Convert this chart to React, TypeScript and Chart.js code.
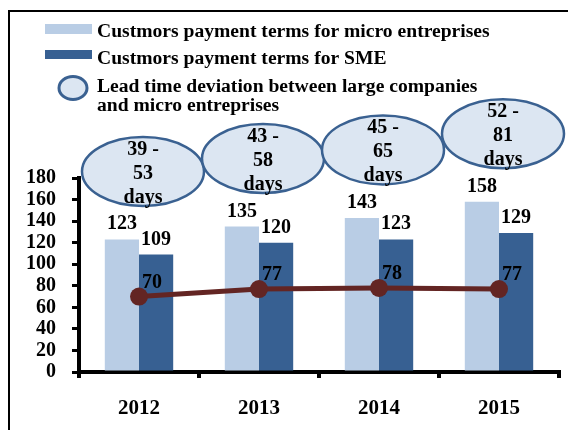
import { useEffect, useRef } from "react";
import { Chart, registerables } from "chart.js";

Chart.register(...registerables);

const years = ["2012", "2013", "2014", "2015"];
const microTerms = [123, 135, 143, 158];
const smeTerms = [109, 120, 123, 129];
const leadDeviation = [70, 77, 78, 77];
const rangeLow = [39, 43, 45, 52];
const rangeHigh = [53, 58, 65, 81];
const yMin = 0;
const yMax = 180;
const yStep = 20;
const legendMicro = "Custmors payment terms for micro entreprises";
const legendSme = "Custmors payment terms for SME";
const legendLead = ["Lead time deviation between large companies", "and micro entreprises"];

const FONT = "'Liberation Serif', 'Times New Roman', serif";
const LIGHT = "#b9cde5";
const DARK = "#376092";
const LINE = "#632523";
const ELL_FILL = "#dce6f2";
const ELL_STROKE = "#3a6191";

const overlay = {
  id: "overlay",
  afterDatasetsDraw(chart: any) {
    const ctx = chart.ctx as CanvasRenderingContext2D;
    ctx.save();
    ctx.fillStyle = "#000";
    ctx.font = `bold 20px ${FONT}`;
    ctx.textAlign = "center";
    ctx.textBaseline = "alphabetic";
    [0, 1].forEach((di) => {
      const meta = chart.getDatasetMeta(di);
      meta.data.forEach((el: any, i: number) => {
        ctx.fillText(String(chart.data.datasets[di].data[i]), el.x, el.y - 10);
      });
    });
    const lm = chart.getDatasetMeta(2);
    ctx.textAlign = "left";
    lm.data.forEach((el: any, i: number) => {
      ctx.fillText(String(chart.data.datasets[2].data[i]), el.x + 3, el.y - 9);
    });

    // ellipses
    const xs = chart.scales.x;
    const ys = chart.scales.y;
    years.forEach((_, i) => {
      const cx = xs.getPixelForValue(i) + 4;
      const cy = ys.getPixelForValue(microTerms[i]) - 68;
      ctx.beginPath();
      ctx.ellipse(cx, cy, 61, 34.5, 0, 0, Math.PI * 2);
      ctx.fillStyle = ELL_FILL;
      ctx.fill();
      ctx.lineWidth = 2.5;
      ctx.strokeStyle = ELL_STROKE;
      ctx.stroke();
      ctx.fillStyle = "#000";
      ctx.textAlign = "center";
      ctx.textBaseline = "middle";
      ctx.font = `bold 20px ${FONT}`;
      const lines = [`${rangeLow[i]} -`, `${rangeHigh[i]}`, "days"];
      lines.forEach((t, k) => ctx.fillText(t, cx, cy + 2 + (k - 1) * 24));
    });

    // frame
    ctx.lineWidth = 2;
    ctx.strokeStyle = "#000";
    ctx.strokeRect(9, 11, 700, 600);

    // legend
    ctx.fillStyle = LIGHT;
    ctx.fillRect(45, 24, 47, 10);
    ctx.fillStyle = DARK;
    ctx.fillRect(45, 50, 47, 9);
    ctx.beginPath();
    ctx.ellipse(73, 88, 14, 11.5, 0, 0, Math.PI * 2);
    ctx.fillStyle = ELL_FILL;
    ctx.fill();
    ctx.lineWidth = 3;
    ctx.strokeStyle = ELL_STROKE;
    ctx.stroke();
    ctx.fillStyle = "#000";
    ctx.font = `bold 19.6px ${FONT}`;
    ctx.textAlign = "left";
    ctx.textBaseline = "alphabetic";
    ctx.fillText(legendMicro, 97, 37);
    ctx.fillText(legendSme, 97, 64);
    ctx.fillText(legendLead[0], 97, 92);
    ctx.fillText(legendLead[1], 97, 111);
    ctx.restore();
  },
};

export default function App() {
  const ref = useRef<HTMLCanvasElement>(null);
  useEffect(() => {
    if (!ref.current) return;
    const chart = new Chart(ref.current, {
      type: "bar",
      data: {
        labels: years,
        datasets: [
          {
            type: "bar",
            label: legendMicro,
            data: microTerms,
            backgroundColor: LIGHT,
            categoryPercentage: 0.57,
            barPercentage: 1,
            order: 1,
          },
          {
            type: "bar",
            label: legendSme,
            data: smeTerms,
            backgroundColor: DARK,
            categoryPercentage: 0.57,
            barPercentage: 1,
            order: 1,
          },
          {
            type: "line",
            label: legendLead.join(" "),
            data: leadDeviation,
            borderColor: LINE,
            backgroundColor: LINE,
            borderWidth: 5,
            pointRadius: 9,
            pointBorderWidth: 0,
            pointBackgroundColor: LINE,
            order: 0,
          },
        ] as any,
      },
      options: {
        responsive: false,
        maintainAspectRatio: false,
        animation: false,
        layout: { padding: { top: 178, left: 0, right: 1, bottom: 0 } },
        plugins: { legend: { display: false }, tooltip: { enabled: false } },
        scales: {
          x: {
            z: 1,
            offset: true,
            grid: { offset: true, drawOnChartArea: false, drawTicks: true, tickLength: 6, color: "#000", lineWidth: 4 },
            border: { display: true, color: "#000", width: 4 },
            ticks: { color: "#000", font: { family: FONT, size: 21, weight: "bold" }, padding: 18 },
            afterFit: (s: any) => { s.height = 58; },
          },
          y: {
            min: yMin,
            max: yMax,
            grid: { drawOnChartArea: false, drawTicks: true, tickLength: 7, color: "#000", lineWidth: 3 },
            border: { display: true, color: "#000", width: 4 },
            ticks: { stepSize: yStep, autoSkip: false, color: "#000", font: { family: FONT, size: 20, weight: "bold" }, padding: 16 },
            afterFit: (s: any) => { s.width = 79; },
          },
        },
      } as any,
      plugins: [overlay],
    });
    return () => chart.destroy();
  }, []);
  return (
    <canvas
      ref={ref}
      width={568}
      height={430}
      style={{ position: "absolute", left: 0, top: 0, display: "block" }}
    />
  );
}
